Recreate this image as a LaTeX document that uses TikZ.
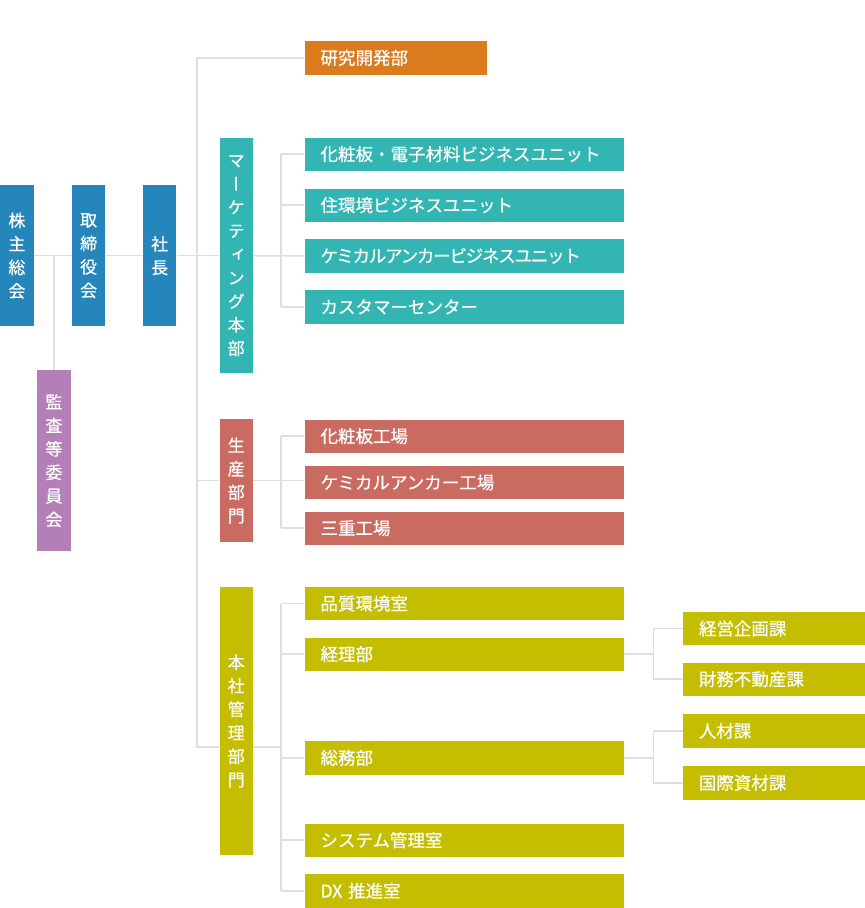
\documentclass[tikz,border=0pt]{standalone}
\usepackage{fontspec}
\setmainfont{Noto Sans CJK JP}[FakeBold=0.5]
\newfontfamily\cjkv{Noto Sans CJK JP}[RawFeature=+vert,FakeBold=0.5]
\newfontfamily\cjktight{Noto Sans CJK JP}[LetterSpace=-7,FakeBold=0.5]
\definecolor{cblue}{RGB}{36,134,186}
\definecolor{cteal}{RGB}{51,181,180}
\definecolor{corange}{RGB}{218,123,30}
\definecolor{cred}{RGB}{202,107,97}
\definecolor{colive}{RGB}{197,189,0}
\definecolor{cpurple}{RGB}{180,127,184}
\definecolor{cline}{RGB}{222,222,222}
\begin{document}
\begin{tikzpicture}[x=1pt,y=-1pt,
  conn/.style={draw=cline,line width=1.5pt},
  hbox/.style={anchor=north west,inner xsep=16pt,inner ysep=0pt,minimum height=33.3pt,text width=287pt,align=left,text=white,font=\fontsize{17.5}{17.5}\selectfont},
  gbox/.style={hbox,text width=150pt},
  vbox/.style={anchor=north west,inner sep=0pt,minimum width=33.4pt,text width=33.4pt,align=center,text=white,font=\cjkv\fontsize{17}{23.5}\selectfont}]
\useasboundingbox (0,0) rectangle (865,908);
% left column
\node[vbox,fill=cblue,minimum height=141pt] (kabu) at (0,185) {株\\主\\総\\会};
\node[vbox,fill=cblue,minimum height=141pt] (tori) at (71.7,185) {取\\締\\役\\会};
\node[vbox,fill=cblue,minimum height=141pt] (pres) at (142.7,185) {社\\長};
\node[vbox,fill=cpurple,minimum height=181pt] (kansa) at (37,370) {監\\査\\等\\委\\員\\会};
% divisions
\node[vbox,fill=cteal,minimum height=235pt] (mkt) at (219.3,138) {マ\\ー\\ケ\\テ\\ィ\\ン\\グ\\本\\部};
\node[vbox,fill=cred,minimum height=122.7pt] (prod) at (219.3,419) {生\\産\\部\\門};
\node[vbox,fill=colive,minimum height=268.3pt] (adm) at (219.3,586.7) {本\\社\\管\\理\\部\\門};
% R&D
\node[hbox,fill=corange,text width=150.7pt] (rd) at (304.3,41) {研究開発部};
% marketing units
\node[hbox,fill=cteal] (m1) at (304.3,137.3) {化粧板・電子材料ビジネスユニット};
\node[hbox,fill=cteal] (m2) at (304.3,188.3) {住環境ビジネスユニット};
\node[hbox,fill=cteal] (m3) at (304.3,239) {\cjktight ケミカルアンカービジネスユニット};
\node[hbox,fill=cteal] (m4) at (304.3,290) {カスタマーセンター};
% production
\node[hbox,fill=cred] (p1) at (304.3,419.3) {化粧板工場};
\node[hbox,fill=cred] (p2) at (304.3,465.7) {ケミカルアンカー工場};
\node[hbox,fill=cred] (p3) at (304.3,511.3) {三重工場};
% admin
\node[hbox,fill=colive] (a1) at (304.3,586.7) {品質環境室};
\node[hbox,fill=colive] (a2) at (304.3,637.3) {経理部};
\node[hbox,fill=colive] (a3) at (304.3,741) {総務部};
\node[hbox,fill=colive] (a4) at (304.3,823.3) {システム管理室};
\node[hbox,fill=colive] (a5) at (304.3,874) {DX 推進室};
% grandchildren
\node[gbox,fill=colive] (g1) at (682.7,611.7) {経営企画課};
\node[gbox,fill=colive] (g2) at (682.7,662.3) {財務不動産課};
\node[gbox,fill=colive] (g3) at (682.7,714) {人材課};
\node[gbox,fill=colive] (g4) at (682.7,766) {国際資材課};
% helper coordinates
\coordinate (tr) at (197,0);
\coordinate (st) at (281,0);
\coordinate (gt) at (653.3,0);
\coordinate (admc) at (219.3,747);
% connectors
\draw[conn] (kabu) -- (tori);
\draw[conn] (tori) -- (pres);
\draw[conn] (pres) -- (mkt);
\draw[conn] (mkt) -- (m3.west);
\draw[conn] (kansa.north) -- (kansa.north |- kabu.center);
\draw[conn] (rd.west) -- (tr |- rd.west) -- (tr |- admc) -- (admc);
\draw[conn] (tr |- prod) -- (prod.west);
% marketing
\draw[conn] (st |- m1) -- (st |- m4);
\draw[conn] (st |- m1) -- (m1.west);
\draw[conn] (st |- m2) -- (m2.west);
\draw[conn] (st |- m4) -- (m4.west);
% production
\draw[conn] (prod.east) -- (prod.east -| p2.west);
\draw[conn] (st |- p1) -- (st |- p3);
\draw[conn] (st |- p1) -- (p1.west);
\draw[conn] (st |- p3) -- (p3.west);
% admin
\draw[conn] (adm.east |- admc) -- (st |- admc);
\draw[conn] (st |- a1) -- (st |- a5);
\draw[conn] (st |- a1) -- (a1.west);
\draw[conn] (st |- a2) -- (a2.west);
\draw[conn] (st |- a3) -- (a3.west);
\draw[conn] (st |- a4) -- (a4.west);
\draw[conn] (st |- a5) -- (a5.west);
% grandchildren
\draw[conn] (a2.east) -- (gt |- a2);
\draw[conn] (gt |- g1) -- (gt |- g2);
\draw[conn] (gt |- g1) -- (g1.west);
\draw[conn] (gt |- g2) -- (g2.west);
\draw[conn] (a3.east) -- (gt |- a3);
\draw[conn] (gt |- g3) -- (gt |- g4);
\draw[conn] (gt |- g3) -- (g3.west);
\draw[conn] (gt |- g4) -- (g4.west);
\end{tikzpicture}
\end{document}
